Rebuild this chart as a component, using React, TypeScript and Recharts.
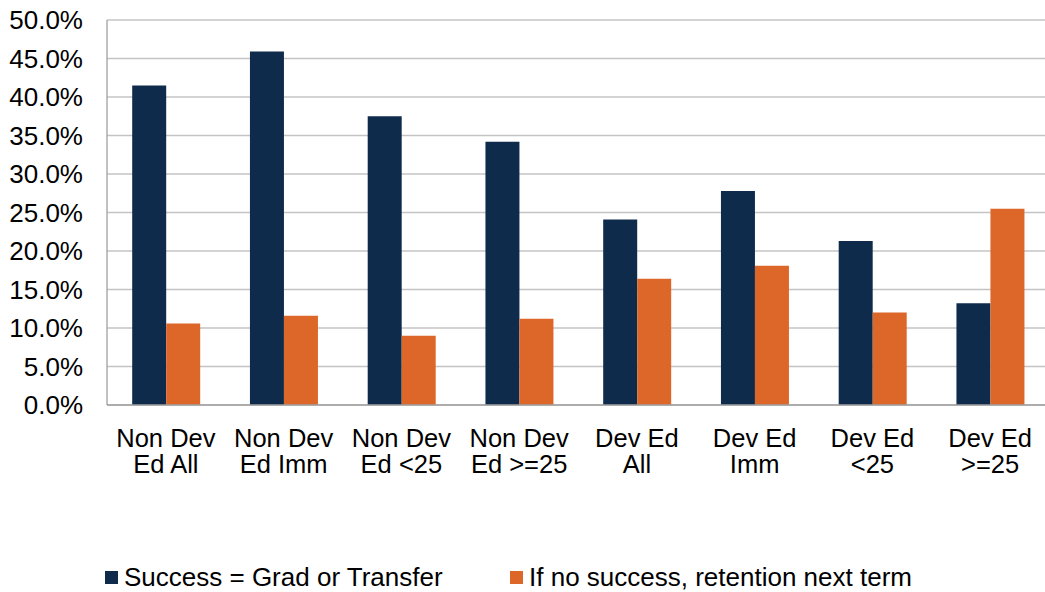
import React from "react";
import { Bar, BarChart, CartesianGrid, Legend, XAxis, YAxis } from "recharts";

const CATEGORIES = [
  "Non Dev|Ed All",
  "Non Dev|Ed Imm",
  "Non Dev|Ed <25",
  "Non Dev|Ed >=25",
  "Dev Ed|All",
  "Dev Ed|Imm",
  "Dev Ed|<25",
  "Dev Ed|>=25",
];
const SUCCESS = [41.5, 45.9, 37.5, 34.2, 24.1, 27.8, 21.3, 13.2];
const RETENTION = [10.6, 11.6, 9.0, 11.2, 16.4, 18.1, 12.0, 25.5];
const Y_TICKS = [0, 5, 10, 15, 20, 25, 30, 35, 40, 45, 50];

const SERIES = [
  { key: "success", name: "Success = Grad or Transfer", color: "#0E2B4B" },
  { key: "retention", name: "If no success, retention next term", color: "#DC6729" },
];

const FONT = "'Liberation Sans', Arial, sans-serif";

const data = CATEGORIES.map((c, i) => ({
  label: c,
  success: SUCCESS[i],
  retention: RETENTION[i],
}));

function CategoryTick({ x, y, payload }: any) {
  const lines = String(payload.value).split("|");
  return (
    <text x={x} y={y} textAnchor="middle" fill="#000" fontSize={25.5} fontFamily={FONT}>
      {lines.map((l, i) => (
        <tspan key={i} x={x} y={y + 42 + i * 26}>
          {l}
        </tspan>
      ))}
    </text>
  );
}

function LegendBox() {
  const lefts = [105, 510];
  return (
    <div style={{ position: "relative", height: 30, fontFamily: FONT, fontSize: 26, color: "#000" }}>
      {SERIES.map((s, i) => (
        <div
          key={s.key}
          style={{ position: "absolute", left: lefts[i], top: 0, height: 30, display: "flex", alignItems: "center", whiteSpace: "nowrap" }}
        >
          <span style={{ display: "inline-block", width: 13, height: 13, background: s.color, marginRight: 6 }} />
          {s.name}
        </div>
      ))}
    </div>
  );
}

export default function App() {
  return (
    <div style={{ position: "absolute", left: 0, top: 0, width: 1045, height: 592, overflow: "hidden", background: "#fff" }}>
      <BarChart
        width={1052}
        height={592}
        data={data}
        margin={{ top: 20, right: 3, bottom: 0, left: 7 }}
        barCategoryGap="21.4%"
        barGap={0}
      >
        <CartesianGrid vertical={false} stroke="#C4C4C4" strokeWidth={1.3} />
        <XAxis
          dataKey="label"
          interval={0}
          height={157}
          tickLine={false}
          tickSize={0}
          tickMargin={0}
          stroke="#A0A0A0"
          strokeWidth={1.3}
          tick={<CategoryTick />}
        />
        <YAxis
          width={100}
          domain={[0, 50]}
          ticks={Y_TICKS}
          tickFormatter={(v: number) => `${v.toFixed(1)}%`}
          tickLine={false}
          tickSize={0}
          tickMargin={24}
          stroke="#A0A0A0"
          strokeWidth={1.3}
          tick={{ fill: "#000", fontSize: 26, fontFamily: FONT }}
        />
        <Legend
          verticalAlign="bottom"
          content={<LegendBox />}
          wrapperStyle={{ left: 0, width: 1045, height: 30 }}
        />
        {SERIES.map((s) => (
          <Bar key={s.key} dataKey={s.key} name={s.name} fill={s.color} isAnimationActive={false} />
        ))}
      </BarChart>
    </div>
  );
}
